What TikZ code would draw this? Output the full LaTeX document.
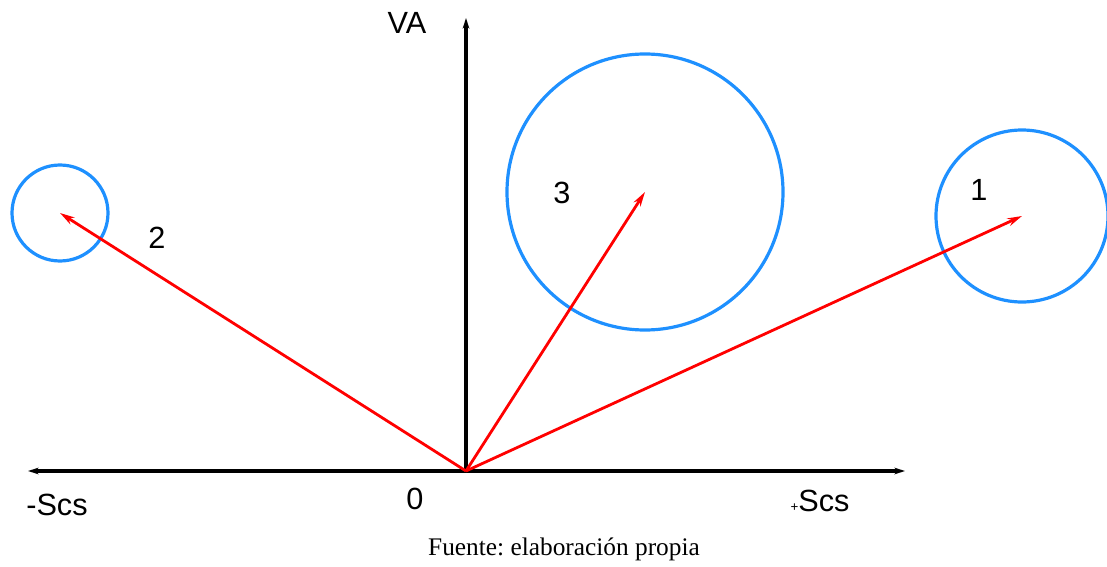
\documentclass[tikz,border=0pt]{standalone}
\usepackage{fontspec}
\setmainfont{Liberation Sans}
\newfontfamily\captionfont{Liberation Serif}
\usetikzlibrary{arrows.meta}
\definecolor{vecRed}{HTML}{FF0000}
\definecolor{zoneBlue}{HTML}{1E90FF}
\frenchspacing

\begin{document}
\begin{tikzpicture}[x=0.75pt,y=-0.75pt,
  axis/.style={line width=2.6pt,black,-{Stealth[length=8pt,width=5pt]}},
  vec/.style={line width=2.1pt,vecRed,-{Stealth[length=11pt,width=6pt]}},
  zone/.style={draw=zoneBlue,line width=2.4pt,circle,inner sep=0pt},
  lab/.style={font=\fontsize{23}{25}\selectfont,inner sep=0pt}]

  \useasboundingbox (0,0) rectangle (1107,567);

  \coordinate (O) at (466,471);
  \coordinate (xr) at (905,471);
  \coordinate (xl) at (28,471);
  \coordinate (yt) at (466,18);

  \draw[axis] (O) -- (xr);
  \draw[axis] (O) -- (xl);
  \draw[axis] (O) -- (yt);

  \node[lab] (va) at (407,23) {VA};
  \node[lab] (mscs) at (57,505) {-Scs};
  \node[lab] (zero) at (415,499) {0};
  \node[lab] (pscs) at (820,501) {{\fontsize{10}{10}\selectfont+}Scs};

  % zonas
  \node[zone,minimum size=129pt] (c1) at (1022,216) {};
  \node[zone,minimum size=72pt] (c2) at (60,213) {};
  \node[zone,minimum size=207pt] (c3) at (645,192) {};

  \draw[vec] (O) -- (c1.center);
  \draw[vec] (O) -- (c2.center);
  \draw[vec] (O) -- (c3.center);

  \node[lab] (n1) at (979,190) {1};
  \node[lab] (n2) at (157,238) {2};
  \node[lab] (n3) at (562,193) {3};

  \node[font=\captionfont\fontsize{19}{21}\selectfont] (src) at (564,549) {Fuente: elaboración propia};
\end{tikzpicture}
\end{document}
